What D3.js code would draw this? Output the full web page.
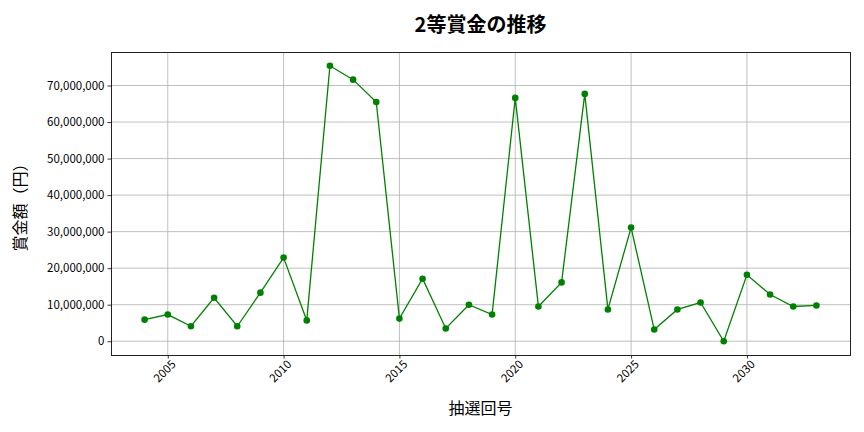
<!DOCTYPE html>
<html>
<head>
<meta charset="utf-8">
<script src="https://cdn.jsdelivr.net/npm/d3@7"></script>
<style>
  body { margin: 0; background: #fff; }
  text { font-family: "Noto Sans CJK JP", "Noto Sans", sans-serif; }
</style>
</head>
<body>
<div id="chart"></div>
<script>
// data
var draws = [2004, 2005, 2006, 2007, 2008, 2009, 2010, 2011, 2012, 2013,
             2014, 2015, 2016, 2017, 2018, 2019, 2020, 2021, 2022, 2023,
             2024, 2025, 2026, 2027, 2028, 2029, 2030, 2031, 2032, 2033];
var prizes = [5900000, 7300000, 4100000, 11900000, 4100000, 13300000, 22900000, 5700000, 75400000, 71600000,
              65500000, 6200000, 17100000, 3500000, 10000000, 7300000, 66600000, 9500000, 16100000, 67700000,
              8700000, 31100000, 3200000, 8700000, 10600000, 0, 18200000, 12800000, 9500000, 9800000];
var xTicks = [2005, 2010, 2015, 2020, 2025, 2030];
var yTicks = [0, 10000000, 20000000, 30000000, 40000000, 50000000, 60000000, 70000000];

var data = draws.map(function(d, i) { return {draw: d, prize: prizes[i]}; });

// dimensions
var W = 864, H = 432;
var margin = {left: 111, right: 14, top: 52, bottom: 77};
var width = W - margin.left - margin.right,
    height = H - margin.top - margin.bottom;

var svg = d3.select("#chart").append("svg")
    .attr("width", W).attr("height", H);
var g = svg.append("g")
    .attr("transform", "translate(" + margin.left + "," + margin.top + ")");

// scales, with matplotlib-like 5% padding
var xMin = d3.min(draws), xMax = d3.max(draws), xPad = (xMax - xMin) * 0.05;
var x = d3.scaleLinear().domain([xMin - xPad, xMax + xPad]).range([0, width]);
var yMax = d3.max(prizes), yPad = yMax * 0.05;
var y = d3.scaleLinear().domain([-yPad, yMax + yPad]).range([height, 0]);

// grid
g.append("g").selectAll("line").data(xTicks).enter().append("line")
    .attr("x1", d => x(d)).attr("x2", d => x(d))
    .attr("y1", 0).attr("y2", height)
    .attr("stroke", "#b0b0b0").attr("stroke-width", 0.8);
g.append("g").selectAll("line").data(yTicks).enter().append("line")
    .attr("x1", 0).attr("x2", width)
    .attr("y1", d => y(d)).attr("y2", d => y(d))
    .attr("stroke", "#b0b0b0").attr("stroke-width", 0.8);

// axes
var xAxis = g.append("g")
    .attr("transform", "translate(0," + height + ")")
    .call(d3.axisBottom(x).tickValues(xTicks).tickFormat(d3.format("d")).tickSize(3.5).tickSizeOuter(0));
xAxis.selectAll("text")
    .style("text-anchor", "end")
    .attr("font-size", "11.5px")
    .attr("dx", "-0.1em").attr("dy", "0.55em")
    .attr("transform", "rotate(-45)");

var yAxis = g.append("g")
    .call(d3.axisLeft(y).tickValues(yTicks).tickFormat(d3.format(",")).tickSize(3.5).tickSizeOuter(0));
yAxis.selectAll("text").attr("font-size", "11.5px");

svg.selectAll(".domain").remove();
svg.selectAll(".tick line").attr("stroke", "#000").attr("stroke-width", 0.8);
svg.selectAll(".tick text").attr("fill", "#000").style("font-family", "'Noto Sans CJK JP', sans-serif");

// frame
g.append("rect")
    .attr("x", 0.5).attr("y", 0.5)
    .attr("width", width).attr("height", height)
    .attr("fill", "none").attr("stroke", "#222").attr("stroke-width", 1);

// line + markers
var line = d3.line().x(d => x(d.draw)).y(d => y(d.prize));
g.append("path").datum(data)
    .attr("d", line)
    .attr("fill", "none")
    .attr("stroke", "green")
    .attr("stroke-width", 1.3);
g.selectAll("circle.pt").data(data).enter().append("circle")
    .attr("class", "pt")
    .attr("cx", d => x(d.draw)).attr("cy", d => y(d.prize))
    .attr("r", 3.3).attr("fill", "green");

// title and labels
svg.append("text")
    .attr("x", margin.left + width / 2).attr("y", 32)
    .attr("text-anchor", "middle")
    .attr("font-size", "20px").attr("font-weight", "bold")
    .text("2等賞金の推移");

svg.append("text")
    .attr("x", margin.left + width / 2).attr("y", 414)
    .attr("text-anchor", "middle")
    .attr("font-size", "16px")
    .text("抽選回号");

svg.append("text")
    .attr("transform", "translate(26," + (margin.top + height / 2) + ") rotate(-90)")
    .attr("text-anchor", "middle")
    .attr("font-size", "16px")
    .text("賞金額（円）");
</script>
</body>
</html>
